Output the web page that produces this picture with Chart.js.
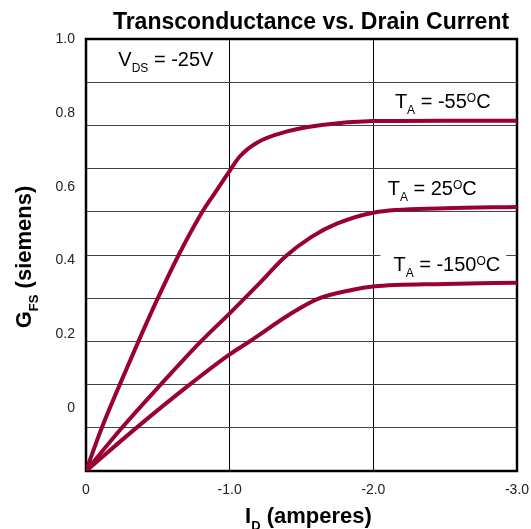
<!DOCTYPE html>
<html lang="en">

<head>
  <meta charset="UTF-8">
  <title>Transconductance vs. Drain Current</title>
  <script src="https://cdn.jsdelivr.net/npm/chart.js"></script>
  <style>
    body { margin: 0; background: #fff; }
  </style>
</head>

<body>
  <canvas id="grafico" width="531" height="529"></canvas>
</body>

</html>
<script>
  // dados (I_D em amperes, G_FS na escala das linhas de grade)
  var idMenos55 = [0, -0.11, -0.235, -0.365, -0.50, -0.645, -0.81, -0.90, -1.0, -1.07, -1.19, -1.40, -1.64, -2.0, -2.5, -3.0];
  var gfsMenos55 = [0, 0.10, 0.20, 0.30, 0.40, 0.50, 0.60, 0.645, 0.695, 0.728, 0.760, 0.786, 0.801, 0.810, 0.811, 0.811];

  var id25 = [0, -0.25, -0.52, -0.80, -1.0, -1.2, -1.39, -1.57, -1.75, -2.0, -2.5, -3.0];
  var gfs25 = [0, 0.10, 0.20, 0.30, 0.365, 0.432, 0.497, 0.542, 0.573, 0.598, 0.608, 0.611];

  var idMenos150 = [0, -0.34, -0.71, -1.0, -1.13, -1.43, -1.61, -1.85, -2.0, -2.5, -3.0];
  var gfsMenos150 = [0, 0.097, 0.197, 0.27, 0.298, 0.365, 0.398, 0.419, 0.427, 0.433, 0.436];

  // rótulos do eixo Y (desalinhados das linhas de grade, como no original)
  var yTickValores = [1.0, 0.8, 0.6, 0.4, 0.2, 0];
  var yTickTextos = ['1.0', '0.8', '0.6', '0.4', '0.2', '0'];
  var xTickValores = [0, -1, -2, -3];
  var xTickTextos = ['0', '-1.0', '-2.0', '-3.0'];

  var FONTE = '"Liberation Sans", Arial, Helvetica, sans-serif';
  var VINHO = '#990033';

  function pontos(xs, ys) {
    var lista = [];
    for (var i = 0; i < xs.length; i++) {
      lista.push({ x: xs[i], y: ys[i] });
    }
    return lista;
  }

  function serie(nome, xs, ys) {
    return {
      label: nome,
      data: pontos(xs, ys),
      borderColor: VINHO,
      borderWidth: 4,
      pointRadius: 0,
      fill: false,
      cubicInterpolationMode: 'monotone',
      xAxisID: 'x',
      yAxisID: 'y'
    };
  }

  // escreve texto com subscrito / sobrescrito
  function larguraRica(ctx, partes, tam, negrito) {
    var w = 0;
    partes.forEach(function (p) {
      var fs = (p.sub || p.sup) ? Math.round(tam * 0.58) : tam;
      ctx.font = (negrito ? 'bold ' : '') + fs + 'px ' + FONTE;
      w += ctx.measureText(p.t).width;
    });
    return w;
  }

  function textoRico(ctx, x, y, partes, tam, negrito) {
    partes.forEach(function (p) {
      var fs = tam, dy = 0;
      if (p.sub) { fs = Math.round(tam * 0.58); dy = tam * 0.3; }
      if (p.sup) { fs = Math.round(tam * 0.58); dy = -tam * 0.3; }
      ctx.font = (negrito ? 'bold ' : '') + fs + 'px ' + FONTE;
      ctx.fillText(p.t, x, y + dy);
      x += ctx.measureText(p.t).width;
    });
    return x;
  }

  var rotuloVds = [{ t: 'V' }, { t: 'DS', sub: true }, { t: ' = -25V' }];
  var rotulos = [
    { x: -2.15, y: 0.840, partes: [{ t: 'T' }, { t: 'A', sub: true }, { t: ' = -55' }, { t: 'O', sup: true }, { t: 'C' }] },
    { x: -2.10, y: 0.638, partes: [{ t: 'T' }, { t: 'A', sub: true }, { t: ' = 25' }, { t: 'O', sup: true }, { t: 'C' }] },
    { x: -2.14, y: 0.462, partes: [{ t: 'T' }, { t: 'A', sub: true }, { t: ' = -150' }, { t: 'O', sup: true }, { t: 'C' }], fundo: true }
  ];

  var pluginDesenho = {
    id: 'desenho',
    beforeDatasetsDraw: function (chart) {
      var ctx = chart.ctx;
      var a = chart.chartArea;
      var sx = chart.scales.x, sy = chart.scales.y;
      ctx.save();
      // fundo branco atrás do rótulo -150
      rotulos.forEach(function (r) {
        if (!r.fundo) return;
        var px = sx.getPixelForValue(r.x), py = sy.getPixelForValue(r.y);
        var w = larguraRica(ctx, r.partes, 20, false);
        ctx.fillStyle = '#fff';
        ctx.fillRect(px - 13, py - 22, w + 19, 30);
      });
      // moldura
      ctx.strokeStyle = '#000';
      ctx.lineWidth = 2.5;
      ctx.strokeRect(a.left, a.top, a.right - a.left, a.bottom - a.top);
      ctx.restore();
    },
    afterDraw: function (chart) {
      var ctx = chart.ctx;
      var a = chart.chartArea;
      var sx = chart.scales.x, sy = chart.scales.y;
      ctx.save();
      ctx.fillStyle = '#000';
      ctx.textBaseline = 'alphabetic';
      ctx.textAlign = 'left';

      // título
      ctx.font = 'bold 23px ' + FONTE;
      ctx.textAlign = 'center';
      ctx.fillText('Transconductance vs. Drain Current', 311, 29);
      ctx.textAlign = 'left';

      // V_DS
      textoRico(ctx, sx.getPixelForValue(-0.225), sy.getPixelForValue(0.9375), rotuloVds, 20, false);

      // temperaturas
      rotulos.forEach(function (r) {
        textoRico(ctx, sx.getPixelForValue(r.x), sy.getPixelForValue(r.y), r.partes, 20, false);
      });

      // título eixo X
      var partesX = [{ t: 'I' }, { t: 'D', sub: true }, { t: ' (amperes)' }];
      var wx = larguraRica(ctx, partesX, 22, true);
      textoRico(ctx, (a.left + a.right) / 2 + 7 - wx / 2, 523, partesX, 22, true);

      // título eixo Y
      var partesY = [{ t: 'G' }, { t: 'FS', sub: true }, { t: ' (siemens)' }];
      var wy = larguraRica(ctx, partesY, 22, true);
      ctx.translate(31, (a.top + a.bottom) / 2 + 2);
      ctx.rotate(-Math.PI / 2);
      textoRico(ctx, -wy / 2, 0, partesY, 22, true);
      ctx.restore();
    }
  };

  var ctx = document.getElementById('grafico').getContext('2d');
  var grafico = new Chart(ctx, {
    type: 'line',
    data: {
      datasets: [
        serie('-55', idMenos55, gfsMenos55),
        serie('25', id25, gfs25),
        serie('-150', idMenos150, gfsMenos150)
      ]
    },
    options: {
      responsive: false,
      animation: false,
      events: [],
      layout: { autoPadding: false, padding: { top: 39, right: 14, left: 0, bottom: 0 } },
      plugins: {
        legend: { display: false },
        tooltip: { enabled: false },
        title: { display: false }
      },
      scales: {
        x: {
          type: 'linear',
          min: -3,
          max: 0,
          reverse: true,
          afterFit: function (s) {
            s.height = 58;
            s.paddingLeft = 0;
            s.paddingRight = 0;
          },
          afterBuildTicks: function (s) {
            s.ticks = xTickValores.map(function (v) { return { value: v }; });
          },
          ticks: {
            autoSkip: false,
            maxRotation: 0,
            padding: 11,
            color: '#222',
            font: { family: FONTE, size: 14 },
            callback: function (v) {
              var i = xTickValores.indexOf(v);
              return i >= 0 ? xTickTextos[i] : '';
            }
          },
          grid: { color: '#000', lineWidth: 1, drawTicks: false },
          border: { display: false }
        },
        y: {
          type: 'linear',
          position: 'left',
          min: 0,
          max: 1,
          afterFit: function (s) { s.width = 0; },
          ticks: { display: false, stepSize: 0.1 },
          grid: { color: '#444', lineWidth: 1, drawTicks: false },
          border: { display: false }
        },
        yRotulos: {
          type: 'linear',
          position: 'left',
          min: -0.17,
          max: 1.0,
          afterFit: function (s) {
            s.width = 86;
            s.paddingTop = 0;
            s.paddingBottom = 0;
          },
          afterBuildTicks: function (s) {
            s.ticks = yTickValores.map(function (v) { return { value: v }; });
          },
          ticks: {
            padding: 11,
            color: '#222',
            font: { family: FONTE, size: 14 },
            callback: function (v) {
              var i = yTickValores.indexOf(v);
              return i >= 0 ? yTickTextos[i] : '';
            }
          },
          grid: { display: false, drawTicks: false },
          border: { display: false }
        }
      }
    },
    plugins: [pluginDesenho]
  });
</script>
